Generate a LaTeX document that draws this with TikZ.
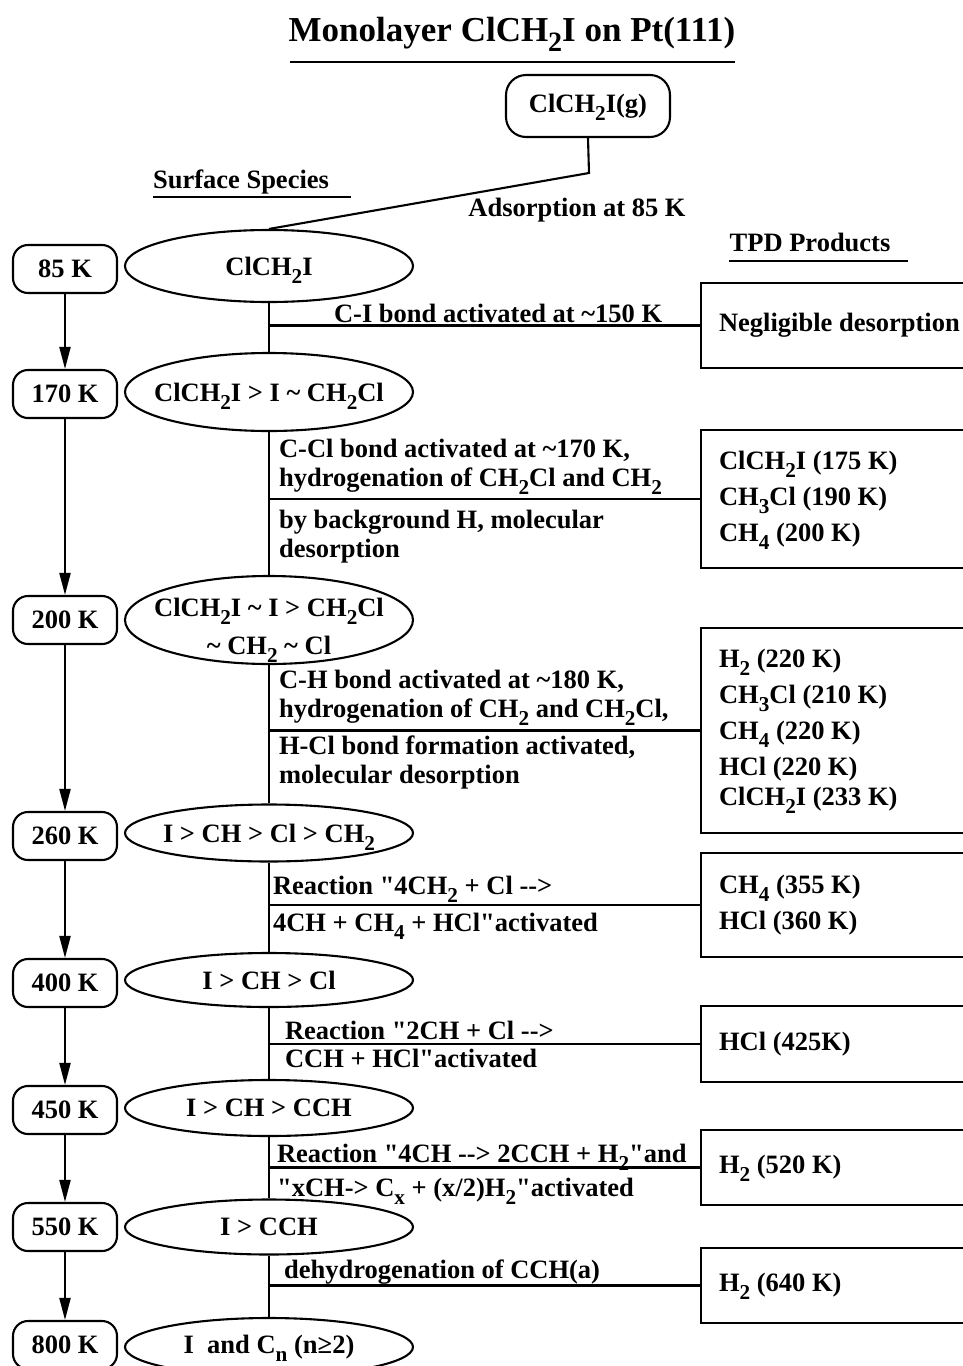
\documentclass[tikz,border=0pt]{standalone}
\usepackage{graphicx}
\usepackage{fontspec}
\setmainfont{Liberation Serif}[Ligatures=TeXOff]
\usetikzlibrary{positioning,shapes,arrows.meta}
\newcommand{\lo}[1]{\raisebox{-0.3em}[0pt][0pt]{\scalebox{0.8}{#1}}}
\newcommand{\tld}{\textasciitilde}

\begin{document}
\begin{tikzpicture}[x=1pt,y=-1pt,
		font=\bfseries\fontsize{26.5}{29}\selectfont,
		line width=2.1pt,
		temp/.style={draw, rounded corners=15pt, minimum width=104pt, minimum height=48pt, inner sep=0pt},
		species/.style={draw, ellipse, minimum width=288pt, minimum height=#1, inner sep=0pt},
		species/.default=56pt,
		prod/.style={draw, rectangle, anchor=west, minimum height=#1, text width=260pt, inner xsep=18pt, align=flush left,
			font=\bfseries\fontsize{26.5}{36}\selectfont},
		rxn/.style={inner sep=0pt, anchor=west, align=left},
		flow/.style={-{Triangle[length=22pt,width=11pt]}}]
	\useasboundingbox (0,0) rectangle (963,1366);

	% Title
	\node (title) at (512,33) {\fontsize{35}{40}\selectfont Monolayer ClCH\lo2I on Pt(111)};
	\draw[line width=2.8pt] (290,62) -- (735,62);

	% Gas phase and adsorption
	\node[draw, rounded corners=20pt, minimum width=164pt, minimum height=62pt] (gas) at (588,106) {ClCH\lo2I(g)};
	\node (ss) at (241,182) {Surface Species};
	\draw[line width=2.2pt] (153,197) -- (351,197);
	\node (ads) at (577,210) {Adsorption at 85 K};
	\node (tpd) at (810,242) {TPD Products};
	\draw[line width=2.2pt] (729,261) -- (908,261);

	% Temperatures
	\node[temp] (t85)  at (65,269)  {85 K};
	\node[temp] (t170) at (65,394)  {170 K};
	\node[temp] (t200) at (65,620)  {200 K};
	\node[temp] (t260) at (65,836)  {260 K};
	\node[temp] (t400) at (65,983)  {400 K};
	\node[temp] (t450) at (65,1110) {450 K};
	\node[temp] (t550) at (65,1227) {550 K};
	\node[temp] (t800) at (65,1345) {800 K};
	\draw[flow] (t85) -- (t170);
	\draw[flow] (t170) -- (t200);
	\draw[flow] (t200) -- (t260);
	\draw[flow] (t260) -- (t400);
	\draw[flow] (t400) -- (t450);
	\draw[flow] (t450) -- (t550);
	\draw[flow] (t550) -- (t800);

	% Surface species
	\node[species=72pt, label=center:{ClCH\lo2I}] (s85) at (269,266) {};
	\node[species=78pt, label=center:{ClCH\lo2I > I \tld{} CH\lo2Cl}] (s170) at (269,392) {};
	\node[species=88pt, label={[align=center, yshift=-6pt]center:{ClCH\lo2I \tld{} I > CH\lo2Cl\\[9pt]\tld{} CH\lo2 \tld{} Cl}}] (s200) at (269,620) {};
	\node[species=57pt, label=center:{I > CH > Cl > CH\lo2}] (s260) at (269,833) {};
	\node[species=54pt, label=center:{I > CH > Cl}] (s400) at (269,980) {};
	\node[species=56pt, label=center:{I > CH > CCH}] (s450) at (269,1108) {};
	\node[species=55pt, label=center:{I > CCH}] (s550) at (269,1227) {};
	\node[species=58pt, label=center:{I\ \ and C\lo n (n≥2)}] (s800) at (269,1347) {};

	\coordinate (bend) at (589,173);
	\draw (gas.south) -- (bend) -- (s85.north);
	\draw (s85) -- (s170);
	\draw (s170) -- (s200);
	\draw (s200) -- (s260);
	\draw (s260) -- (s400);
	\draw (s400) -- (s450);
	\draw (s450) -- (s550);
	\draw (s550) -- (s800);

	% TPD products
	\node[prod=85pt]  (p1) at (700,325.5) {Negligible desorption};
	\node[prod=138pt] (p2) at (700,499) {ClCH\lo2I (175 K)\\CH\lo3Cl (190 K)\\CH\lo4 (200 K)};
	\node[prod=205pt] (p3) at (700,730.5) {H\lo2 (220 K)\\CH\lo3Cl (210 K)\\CH\lo4 (220 K)\\HCl (220 K)\\[-6pt]ClCH\lo2I (233 K)};
	\node[prod=104pt] (p4) at (700,905) {CH\lo4 (355 K)\\HCl (360 K)};
	\node[prod=76pt]  (p5) at (700,1044) {HCl (425K)};
	\node[prod=75pt]  (p6) at (700,1167.5) {H\lo2 (520 K)};
	\node[prod=75pt]  (p7) at (700,1285.5) {H\lo2 (640 K)};

	\draw (s85.south |- p1.west) -- (p1.west);
	\draw (s170.south |- p2.west) -- (p2.west);
	\draw (s200.south |- p3.west) -- (p3.west);
	\draw (s260.south |- p4.west) -- (p4.west);
	\draw (s400.south |- p5.west) -- (p5.west);
	\draw (s450.south |- p6.west) -- (p6.west);
	\draw (s550.south |- p7.west) -- (p7.west);

	% Reaction steps
	\node[rxn] (r1) at (333,313) {C-I bond activated at \tld150 K};
	\node[rxn] (r2a) at (278,466) {C-Cl bond activated at \tld170 K,\\hydrogenation of CH\lo2Cl and CH\lo2};
	\node[rxn] (r2b) at (278,537) {by background H, molecular\\desorption};
	\node[rxn] (r3a) at (278,697) {C-H bond activated at \tld180 K,\\hydrogenation of CH\lo2 and CH\lo2Cl,};
	\node[rxn] (r3b) at (278,762) {H-Cl bond formation activated,\\molecular desorption};
	\node[rxn] (r4a) at (272,885) {Reaction "4CH\lo2 + Cl -->};
	\node[rxn] (r4b) at (272,922) {4CH + CH\lo4 + HCl"activated};
	\node[rxn] (r5a) at (284,1030) {Reaction "2CH + Cl -->};
	\node[rxn] (r5b) at (284,1058) {CCH + HCl"activated};
	\node[rxn] (r6a) at (276,1153) {Reaction "4CH --> 2CCH + H\lo2"and};
	\node[rxn] (r6b) at (276,1190) {"xCH-> C\lo x + (x/2)H\lo2"activated};
	\node[rxn] (r7) at (283,1272) {dehydrogenation of CCH(a)};
\end{tikzpicture}
\end{document}
